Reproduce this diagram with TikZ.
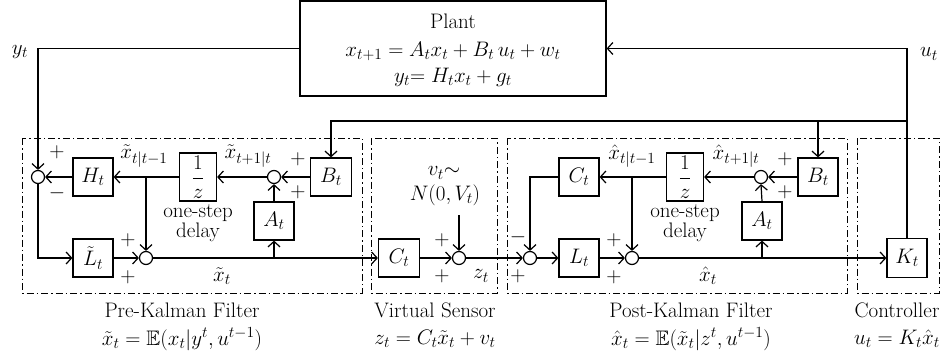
\RequirePackage{fix-cm}
\documentclass[tikz,border=0pt]{standalone}
\usepackage{amsmath,amssymb}
\usetikzlibrary{arrows.meta}
\DeclareMathSizes{21}{21}{15.5}{11.5}
\begin{document}
\begin{tikzpicture}[x=1pt,y=-1pt,
  font=\fontsize{21}{25}\selectfont,
  blk/.style={draw,line width=1.2pt,minimum width=40pt,minimum height=38pt,inner sep=0pt},
  dbox/.style={draw,line width=1.2pt,minimum width=37pt,minimum height=48pt,inner sep=0pt},
  sumc/.style={draw,circle,line width=1.2pt,minimum size=13pt,inner sep=0pt},
  wire/.style={line width=1.2pt,-{Straight Barb[length=5.5pt,width=12pt]}},
  frame/.style={line width=0.9pt,dash pattern=on 7pt off 3pt on 1.5pt off 3pt},
  lbl/.style={inner sep=0pt},
  sgn/.style={inner sep=0pt}
]
\useasboundingbox (0,0) rectangle (945,356);
% frames
\draw[frame] (22,138) rectangle (362,293);
\draw[frame] (371,138) rectangle (497,293);
\draw[frame] (507,138) rectangle (847,293);
\draw[frame] (857,138) rectangle (939,293);
% plant
\node[draw,line width=1.2pt,minimum width=306pt,minimum height=95pt,inner sep=0pt] (plant) at (453,48.5) {};
\node[lbl] (plantT) at (453,21) {Plant};
\node[lbl] (plantE1) at (453,51) {$x_{t+1}=A_tx_t+B_t\,u_t+w_t$};
\node[lbl] (plantE2) at (453,77) {$y_t{=}\;H_tx_t+g_t$};
% pre-kalman
\node[sumc] (s1) at (38,177) {};
\node[blk] (H) at (93,177) {$H_t$};
\node[dbox] (D1) at (198,177) {$\dfrac{1}{z}$};
\node[sumc] (s2) at (274,177) {};
\node[blk,minimum width=41pt] (B1) at (331,177) {$B_t$};
\node[blk] (A1) at (274,221) {$A_t$};
\node[blk] (L1) at (93,258) {$\tilde{L}_t$};
\node[sumc] (s3) at (146,258) {};
% virtual sensor
\node[blk,minimum width=41pt] (C1) at (399,258) {$C_t$};
\node[sumc] (s4) at (459,258) {};
\node[lbl] (nz1) at (444,173) {$v_t{\sim}$};
\node[lbl] (nz2) at (445,195) {$N(0,V_t)$};
\coordinate (nz) at (459,215);
% post-kalman
\node[sumc] (s5) at (530,258) {};
\node[blk] (L2) at (579,258) {$L_t$};
\node[sumc] (s6) at (632,258) {};
\node[blk] (A2) at (762,221) {$A_t$};
\node[blk] (C2) at (579,177) {$C_t$};
\node[dbox] (D2) at (685,177) {$\dfrac{1}{z}$};
\node[sumc] (s7) at (761,177) {};
\node[blk] (B2) at (818,177) {$B_t$};
% controller
\node[blk,minimum height=39pt] (K) at (907,258) {$K_t$};
% junctions
\coordinate (j1) at (146,177);
\coordinate (j2) at (274,258);
\coordinate (j3) at (762,258);
\coordinate (j4) at (632,177);
\coordinate (ub) at (907,121);
\coordinate (ub2) at (818,121);
% wires pre
\draw[wire] (B1.west) -- (s2.east);
\draw[wire] (A1.north) -- (s2.south);
\draw[wire] (s2.west) -- (D1.east);
\draw[wire] (D1.west) -- (H.east);
\draw[wire] (j1) -- (s3.north);
\draw[wire] (H.west) -- (s1.east);
\draw[wire] (s1.south) |- (L1.west);
\draw[wire] (L1.east) -- (s3.west);
\draw[wire] (s3.east) -- (C1.west);
\draw[wire] (j2) -- (A1.south);
% virtual
\draw[wire] (C1.east) -- (s4.west);
\draw[wire] (nz) -- (s4.north);
\draw[wire] (s4.east) -- (s5.west);
% post
\draw[wire] (s5.east) -- (L2.west);
\draw[wire] (L2.east) -- (s6.west);
\draw[wire] (s6.east) -- (K.west);
\draw[wire] (j3) -- (A2.south);
\draw[wire] (A2.north) -- (s7.south);
\draw[wire] (B2.west) -- (s7.east);
\draw[wire] (s7.west) -- (D2.east);
\draw[wire] (D2.west) -- (C2.east);
\draw[wire] (j4) -- (s6.north);
\draw[wire] (C2.west) -| (s5.north);
% plant loops
\draw[wire] (plant.west) -| (s1.north);
\draw[wire] (K.north) |- (plant.east);
\draw[wire] (ub) -| (B1.north);
\draw[wire] (ub2) -- (B2.north);
% labels
\node[lbl] (ly) at (20,52) {$y_t$};
\node[lbl] (lu) at (929,54) {$u_t$};
\node[lbl] (lx1) at (144,156) {$\tilde{x}_{t|t-1}$};
\node[lbl] (lx2) at (248,156) {$\tilde{x}_{t+1|t}$};
\node[lbl] (lx3) at (632,156) {$\hat{x}_{t|t-1}$};
\node[lbl] (lx4) at (736,156) {$\hat{x}_{t+1|t}$};
\node[lbl] (dl1a) at (198,213) {one-step};
\node[lbl] (dl1b) at (198,232) {delay};
\node[lbl] (dl2a) at (685,213) {one-step};
\node[lbl] (dl2b) at (685,232) {delay};
\node[lbl] (lxt) at (222,276) {$\tilde{x}_t$};
\node[lbl] (lxh) at (708,276) {$\hat{x}_t$};
\node[lbl] (lz) at (481,276) {$z_t$};
% signs
\node[sgn] at (57,152) {$+$};
\node[sgn] at (57,193) {$-$};
\node[sgn] at (298,159) {$+$};
\node[sgn] at (298,192) {$+$};
\node[sgn] at (128,240) {$+$};
\node[sgn] at (128,277) {$+$};
\node[sgn] at (442,240) {$+$};
\node[sgn] at (442,276) {$+$};
\node[sgn] at (518,237) {$-$};
\node[sgn] at (518,276) {$+$};
\node[sgn] at (614,240) {$+$};
\node[sgn] at (614,277) {$+$};
\node[sgn] at (785,159) {$+$};
\node[sgn] at (785,192) {$+$};
% bottom titles
\node[lbl] (t1) at (182,310) {Pre-Kalman Filter};
\node[lbl] (f1) at (182,339) {$\tilde{x}_t=\mathbb{E}(x_t|y^t,u^{t-1})$};
\node[lbl] (t2) at (435,310) {Virtual Sensor};
\node[lbl] (f2) at (435,339) {$z_t=C_t\tilde{x}_t+v_t$};
\node[lbl] (t3) at (691,310) {Post-Kalman Filter};
\node[lbl] (f3) at (691,339) {$\hat{x}_t=\mathbb{E}(\tilde{x}_t|z^t,u^{t-1})$};
\node[lbl] (t4) at (897,310) {Controller};
\node[lbl] (f4) at (897,339) {$u_t=K_t\hat{x}_t$};
\end{tikzpicture}
\end{document}
